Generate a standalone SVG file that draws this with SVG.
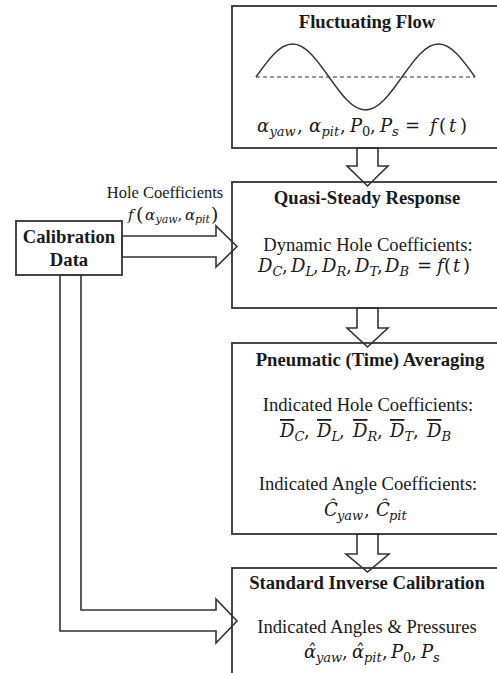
<svg xmlns="http://www.w3.org/2000/svg" width="497" height="673" viewBox="0 0 497 673">
<style>
.box{fill:none;stroke:#333;stroke-width:1.8}
.arr{fill:#fff;stroke:#333;stroke-width:1.6;stroke-linejoin:miter}
.wave{fill:none;stroke:#333;stroke-width:1.4}
.dash{fill:none;stroke:#333;stroke-width:1.1;stroke-dasharray:4 3}
text{font-family:"Liberation Serif","Times New Roman",serif;fill:#1a1a1a}
.b{font-weight:bold;font-size:18.7px}
.r{font-size:18.6px}
.lab{font-size:16.5px}
.mi{font-family:"DejaVu Serif","Liberation Serif",serif;font-style:italic;font-size:18px}
.mr{font-family:"DejaVu Serif","Liberation Serif",serif;font-size:18px}
.si{font-family:"DejaVu Serif","Liberation Serif",serif;font-style:italic;font-size:13px}
.sr{font-family:"DejaVu Serif","Liberation Serif",serif;font-size:13px}
.ov{text-decoration:overline}
</style>
<rect width="497" height="673" fill="#fff"/>
<g id="connectors">
<polygon class="arr" points="357,148 357,166 347,166 367.5,186 388,166 378,166 378,148"/>
<polygon class="arr" points="357,308 357,328 347,328 367.5,347 388,328 378,328 378,308"/>
<polygon class="arr" points="357,534 357,554 346,554 367.5,572 389,554 378,554 378,534"/>
<polygon class="arr" points="122,236 216,236 216,226 237,246.5 216,267 216,257 122,257"/>
<polygon class="arr" points="60,275 60,631 216,631 216,643 237,621 216,599 216,610 81,610 81,275"/>
<text class="lab" x="165" y="198" text-anchor="middle">Hole Coefficients</text>
<text><tspan class="mi" x="128" y="220" style="font-size:15px">f</tspan><tspan class="mr" x="136" y="221" style="font-size:19px">(</tspan><tspan class="mi" x="145" y="220" style="font-size:15px">α</tspan><tspan class="si" x="155.5" y="223" style="font-size:11px">yaw</tspan><tspan class="mr" x="177.5" y="220" style="font-size:15px">,</tspan><tspan class="mi" x="185" y="220" style="font-size:15px">α</tspan><tspan class="si" x="195" y="223" style="font-size:11px">pit</tspan><tspan class="mr" x="211" y="221" style="font-size:19px">)</tspan></text>
</g>
<g id="fluctuating-flow">
<rect class="box" x="232" y="6" width="280" height="142"/>
<text class="b" x="367" y="28" text-anchor="middle">Fluctuating Flow</text>
<path class="dash" d="M256,77 H475"/>
<path class="wave" d="M256,77 C267.9,60.1 279.3,44 292.5,44 S317.1,60.1 329,77 S352.3,110 365.5,110 S390.1,93.9 402,77 S425.3,44 438.5,44 S463.1,60.1 475,77"/>
<text><tspan class="mi" x="257" y="132">α</tspan><tspan class="si" x="269.5" y="136">yaw</tspan><tspan class="mr" x="297" y="132">,</tspan><tspan class="mi" x="309" y="132">α</tspan><tspan class="si" x="321.5" y="136">pit</tspan><tspan class="mr" x="340" y="132">,</tspan><tspan class="mi" x="350" y="132">P</tspan><tspan class="sr" x="362" y="136">0</tspan><tspan class="mr" x="370" y="132">,</tspan><tspan class="mi" x="380" y="132">P</tspan><tspan class="si" x="392" y="136">s</tspan><tspan class="mr" x="405" y="132">=</tspan><tspan class="mi" x="430" y="132">f</tspan><tspan class="mr" x="439" y="132">(</tspan><tspan class="mi" x="449" y="132">t</tspan><tspan class="mr" x="460" y="132">)</tspan></text>
</g>
<g id="calibration-data">
<rect class="box" x="16" y="221" width="106" height="54"/>
<text class="b" x="69" y="243" text-anchor="middle">Calibration</text>
<text class="b" x="69" y="266" text-anchor="middle">Data</text>
</g>
<g id="quasi-steady-response">
<rect class="box" x="232" y="182" width="280" height="126"/>
<text class="b" x="367" y="204" text-anchor="middle">Quasi-Steady Response</text>
<text class="r" x="368" y="251" text-anchor="middle">Dynamic Hole Coefficients:</text>
<text><tspan class="mi" x="258" y="272">D</tspan><tspan class="si" x="272.5" y="276">C</tspan><tspan class="mr" x="282" y="272">,</tspan><tspan class="mi" x="291" y="272">D</tspan><tspan class="si" x="305.5" y="276">L</tspan><tspan class="mr" x="313" y="272">,</tspan><tspan class="mi" x="322" y="272">D</tspan><tspan class="si" x="336.5" y="276">R</tspan><tspan class="mr" x="346" y="272">,</tspan><tspan class="mi" x="355" y="272">D</tspan><tspan class="si" x="369.5" y="276">T</tspan><tspan class="mr" x="377" y="272">,</tspan><tspan class="mi" x="385" y="272">D</tspan><tspan class="si" x="399.5" y="276">B</tspan><tspan class="mr" x="417" y="272">=</tspan><tspan class="mi" x="437" y="272">f</tspan><tspan class="mr" x="444" y="272">(</tspan><tspan class="mi" x="453" y="272">t</tspan><tspan class="mr" x="463" y="272">)</tspan></text>
</g>
<g id="pneumatic-averaging">
<rect class="box" x="232" y="343" width="280" height="191"/>
<text class="b" x="370" y="366" text-anchor="middle">Pneumatic (Time) Averaging</text>
<text class="r" x="368" y="411" text-anchor="middle">Indicated Hole Coefficients:</text>
<text><tspan class="mi ov" x="280" y="437">D</tspan><tspan class="si" x="294.5" y="441">C</tspan><tspan class="mr" x="304" y="437">,</tspan><tspan class="mi ov" x="317" y="437">D</tspan><tspan class="si" x="331.5" y="441">L</tspan><tspan class="mr" x="339" y="437">,</tspan><tspan class="mi ov" x="353" y="437">D</tspan><tspan class="si" x="367.5" y="441">R</tspan><tspan class="mr" x="377" y="437">,</tspan><tspan class="mi ov" x="390" y="437">D</tspan><tspan class="si" x="404.5" y="441">T</tspan><tspan class="mr" x="413" y="437">,</tspan><tspan class="mi ov" x="427" y="437">D</tspan><tspan class="si" x="441.5" y="441">B</tspan></text>
<text class="r" x="368" y="490" text-anchor="middle">Indicated Angle Coefficients:</text>
<text><tspan class="mi" x="324" y="516">Ĉ</tspan><tspan class="si" x="337" y="520">yaw</tspan><tspan class="mr" x="364" y="516">,</tspan><tspan class="mi" x="376" y="516">Ĉ</tspan><tspan class="si" x="389" y="520">pit</tspan></text>
</g>
<g id="standard-inverse-calibration">
<rect class="box" x="232" y="568" width="280" height="120"/>
<text class="b" x="367" y="589" text-anchor="middle">Standard Inverse Calibration</text>
<text class="r" x="367" y="633" text-anchor="middle">Indicated Angles &amp; Pressures</text>
<text><tspan class="mi" x="304" y="658">α̂</tspan><tspan class="si" x="316" y="662">yaw</tspan><tspan class="mr" x="342" y="658">,</tspan><tspan class="mi" x="352" y="658">α̂</tspan><tspan class="si" x="364" y="662">pit</tspan><tspan class="mr" x="382" y="658">,</tspan><tspan class="mi" x="391" y="658">P</tspan><tspan class="sr" x="403" y="662">0</tspan><tspan class="mr" x="411" y="658">,</tspan><tspan class="mi" x="421" y="658">P</tspan><tspan class="si" x="433" y="662">s</tspan></text>
</g>
</svg>
